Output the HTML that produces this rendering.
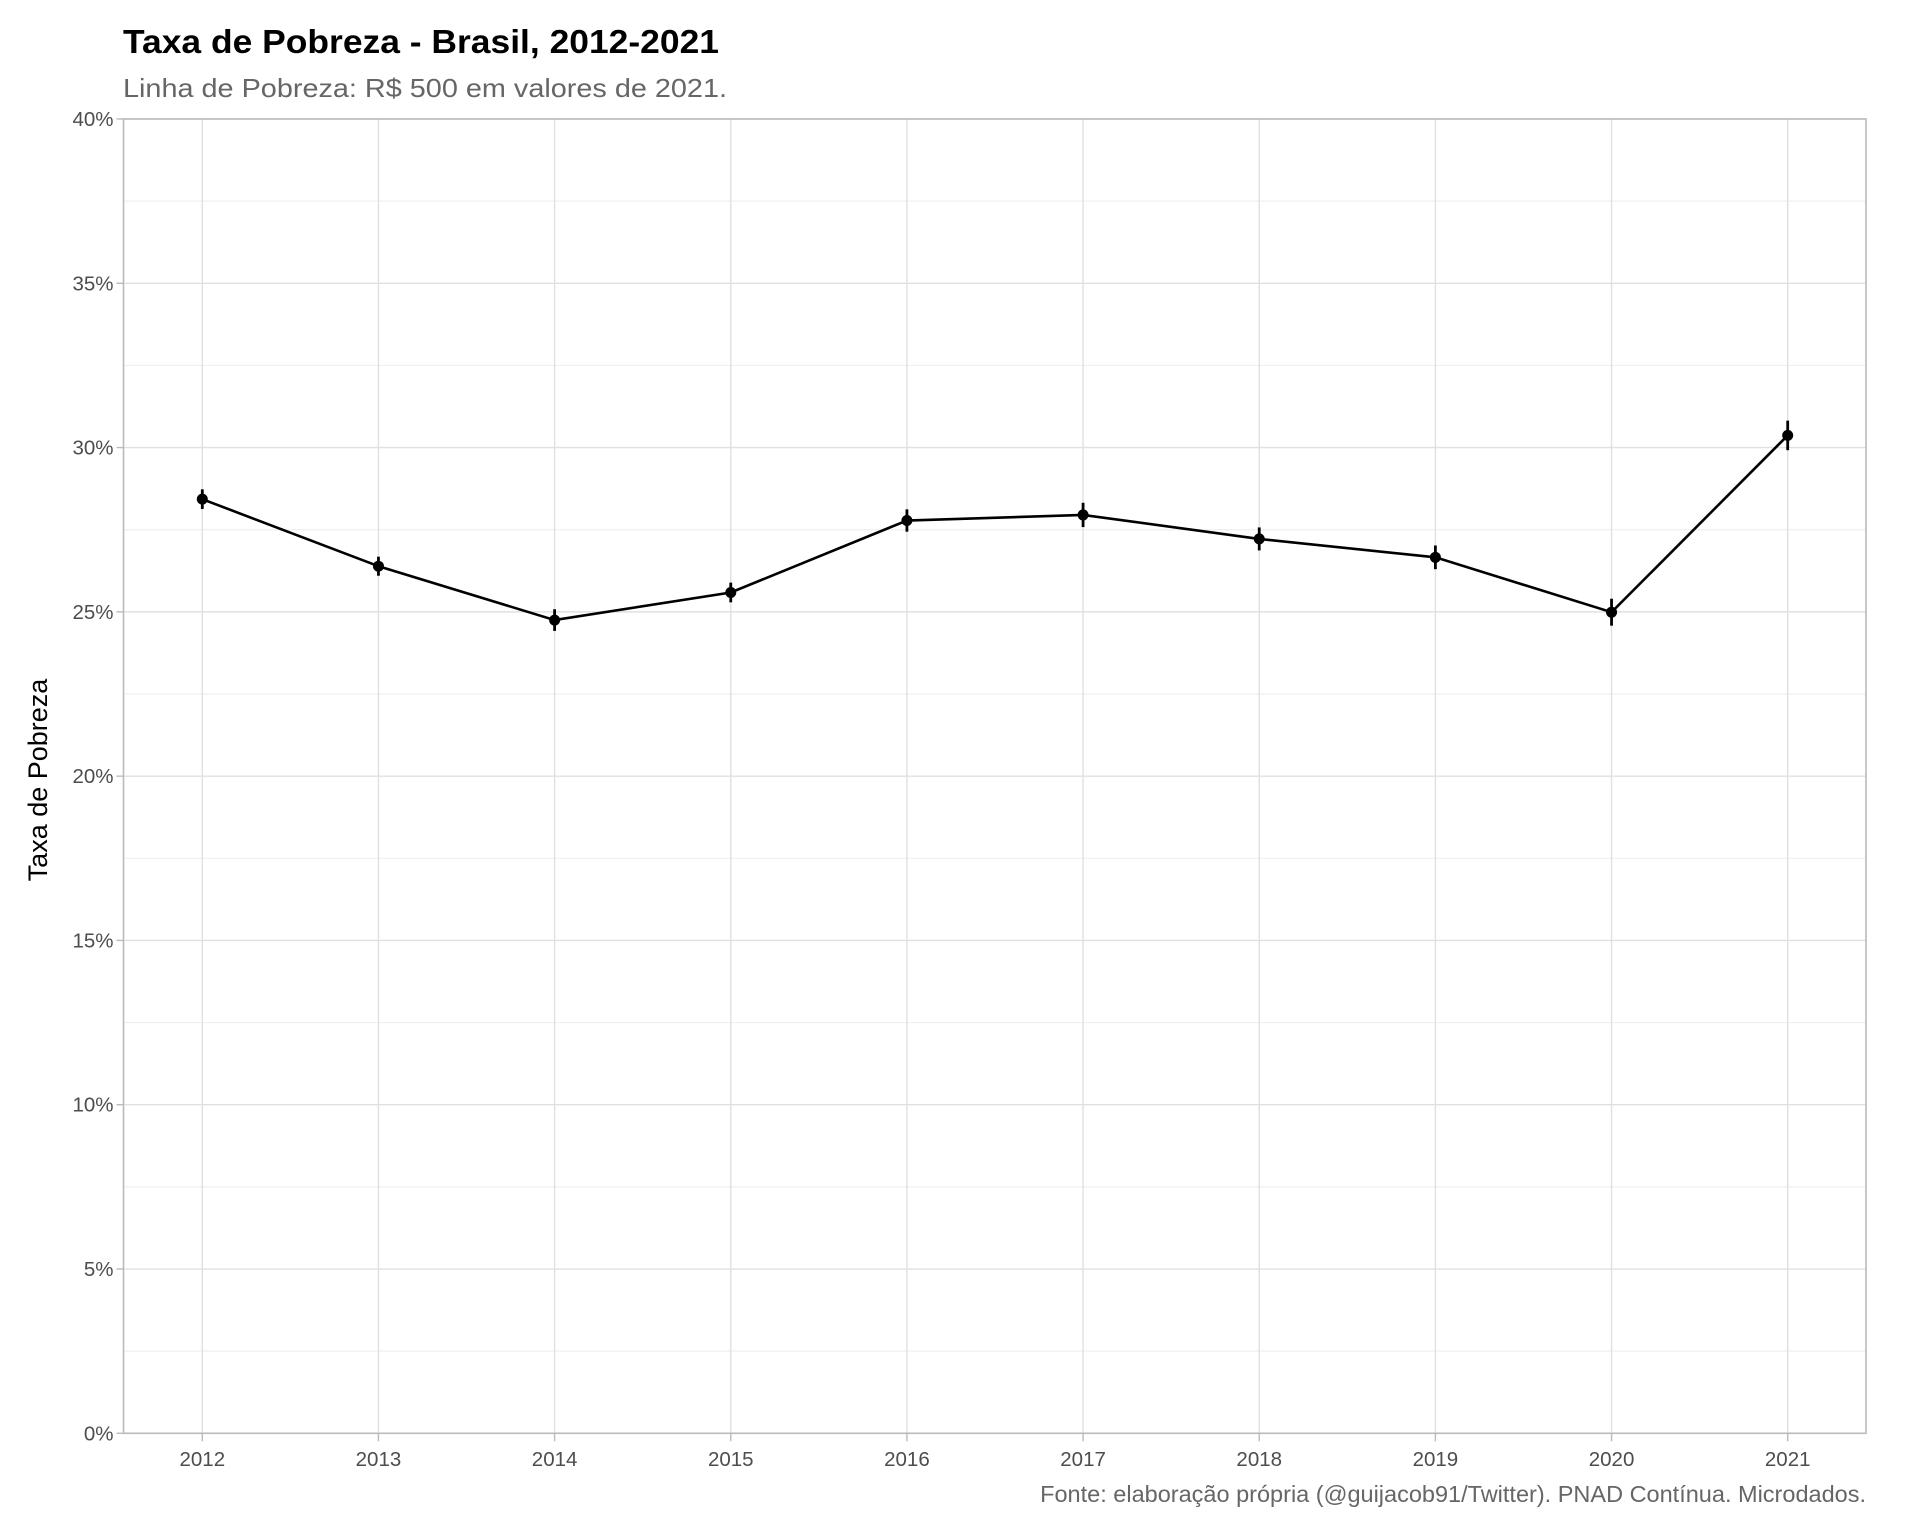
<!DOCTYPE html>
<html><head><meta charset="utf-8"><style>
html,body{margin:0;padding:0;background:#fff;}
svg{display:block;font-family:"Liberation Sans",Arial,sans-serif;}
</style></head><body>
<svg id="chart" width="1920" height="1536" viewBox="0 0 1920 1536" xmlns="http://www.w3.org/2000/svg">
<rect width="1920" height="1536" fill="#fff"/>
<text x="123" y="53" font-size="33" font-weight="bold" fill="#000" textLength="596" lengthAdjust="spacingAndGlyphs">Taxa de Pobreza - Brasil, 2012-2021</text>
<text x="123" y="97" font-size="26" fill="#666" textLength="604" lengthAdjust="spacingAndGlyphs">Linha de Pobreza: R$ 500 em valores de 2021.</text>
<text transform="translate(47,780) rotate(-90)" text-anchor="middle" font-size="27" fill="#000">Taxa de Pobreza</text>
<text x="1866" y="1502" text-anchor="end" font-size="23.5" fill="#666">Fonte: elaboração própria (@guijacob91/Twitter). PNAD Contínua. Microdados.</text>
<g id="grid"></g>
<g id="axes"></g>
<g id="marks"></g>
</svg>
<script>
const years = [2012,2013,2014,2015,2016,2017,2018,2019,2020,2021];
const rates = [28.43,26.39,24.75,25.59,27.78,27.95,27.22,26.66,24.99,30.37];
const errs = [0.30,0.29,0.33,0.30,0.34,0.37,0.35,0.36,0.41,0.45];
const yTicks = [0,5,10,15,20,25,30,35,40];
const yTickLabels = ["0%","5%","10%","15%","20%","25%","30%","35%","40%"];

const L=123.5, R=1866, T=119, B=1433.3;
const xs = v => 202.3 + (v-2012)*(1787.7-202.3)/9;
const ys = v => B - v*(B-T)/40;
const NS="http://www.w3.org/2000/svg";
function mk(tag, attrs, parent){const e=document.createElementNS(NS,tag);for(const k in attrs)e.setAttribute(k,attrs[k]);parent.appendChild(e);return e;}
const grid=document.getElementById('grid'), axes=document.getElementById('axes'), marks=document.getElementById('marks');

for(let i=0;i<yTicks.length-1;i++){
  const mid=(yTicks[i]+yTicks[i+1])/2;
  const g=mk('line',{x1:L,x2:R,y1:ys(mid),y2:ys(mid),stroke:'#efefef','stroke-width':1.2},grid);
  
  
}
yTicks.forEach((t,i)=>{
  const g=mk('line',{x1:L,x2:R,y1:ys(t),y2:ys(t),stroke:'#e0e0e0','stroke-width':1.4},grid);
  
  
  const tk=mk('line',{x1:L-7,x2:L,y1:ys(t),y2:ys(t),stroke:'#bbb','stroke-width':1.4},axes);
  
  
  const tx=mk('text',{x:L-10,y:ys(t)+7,'text-anchor':'end','font-size':20.5,fill:'#4d4d4d'},axes);
  tx.textContent=yTickLabels[i];
  
  
});
years.forEach(y=>{
  const g=mk('line',{x1:xs(y),x2:xs(y),y1:T,y2:B,stroke:'#e0e0e0','stroke-width':1.4},grid);
  
  
  const tk=mk('line',{x1:xs(y),x2:xs(y),y1:B,y2:B+8,stroke:'#bbb','stroke-width':1.4},axes);
  
  
  const tx=mk('text',{x:xs(y),y:1466,'text-anchor':'middle','font-size':20.5,fill:'#4d4d4d'},axes);
  tx.textContent=String(y);
  
  
});
const border=mk('rect',{x:L,y:T,width:R-L,height:B-T,fill:'none',stroke:'#bbb','stroke-width':1.6},axes);



const line=mk('polyline',{points:years.map((y,i)=>xs(y)+','+ys(rates[i])).join(' '),fill:'none',stroke:'#000','stroke-width':2.6},marks);


years.forEach((y,i)=>{
  const eb=mk('line',{x1:xs(y),x2:xs(y),y1:ys(rates[i]+errs[i]),y2:ys(rates[i]-errs[i]),stroke:'#000','stroke-width':2.8},marks);
  
  
  const p=mk('circle',{cx:xs(y),cy:ys(rates[i]),r:5.5,fill:'#000'},marks);
  
  
});
</script>
</body></html>
